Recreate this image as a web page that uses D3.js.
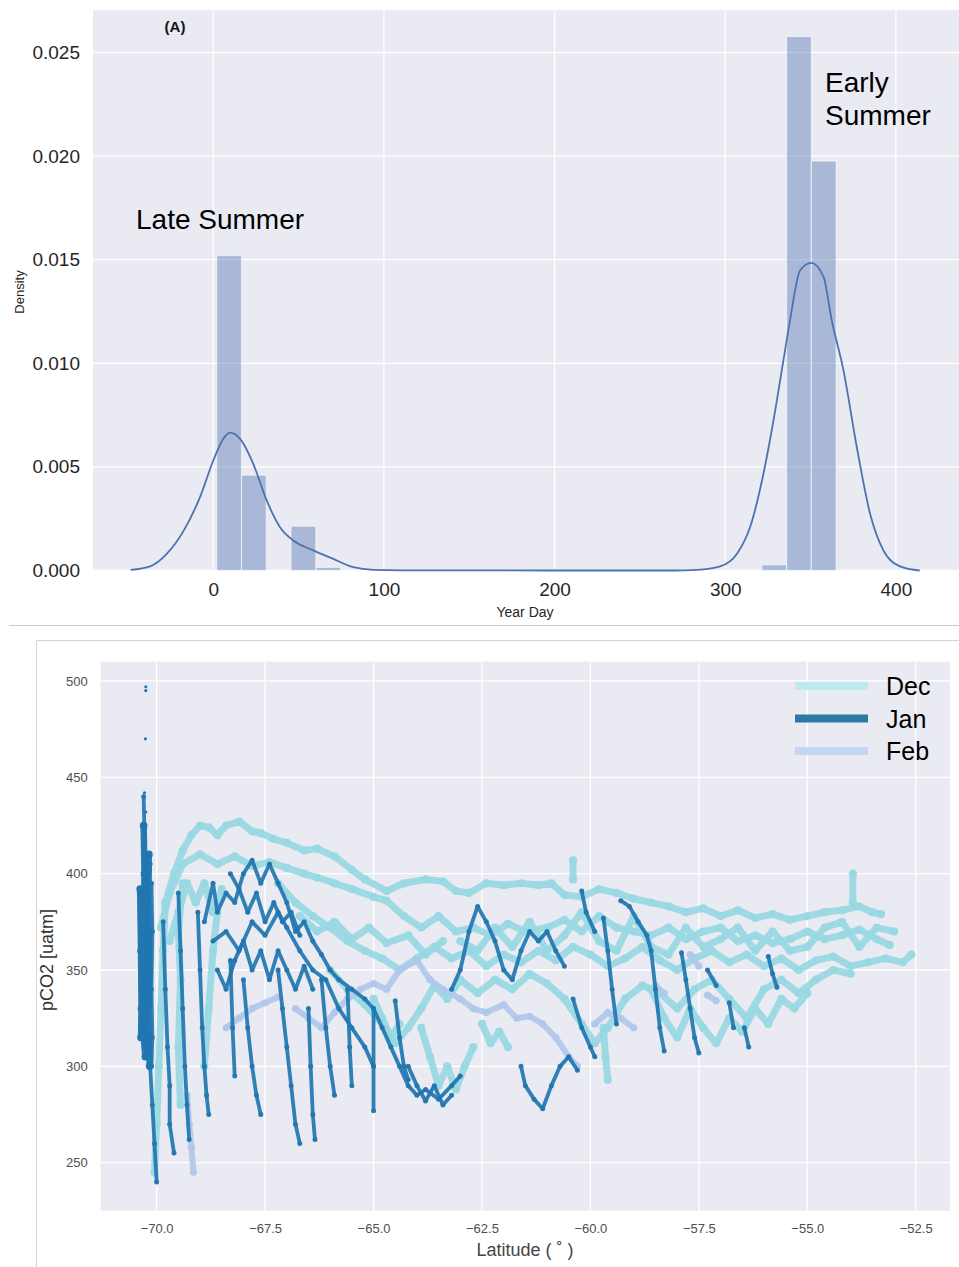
<!DOCTYPE html>
<html>
<head>
<meta charset="utf-8">
<title>Year day density and pCO2 by latitude</title>
<script src="https://d3js.org/d3.v7.min.js"></script>
<style>
  body { margin: 0; background: #fff; }
  svg { display: block; font-family: "Liberation Sans", Arial, sans-serif; }
</style>
</head>
<body>
<div id="chart"></div>
<script>
// ---- panel A data: histogram of year day (density) ----
var binStart = 2, binEnd = 365;
var histDensity = [0.0152, 0.0046, 0, 0.00214, 0.00015,
  0, 0, 0, 0, 0, 0, 0, 0, 0, 0, 0, 0, 0, 0, 0, 0, 0,
  0.000275, 0.02577, 0.01976];
var kdeDay = [-48.4, -37, -27.3, -17.5, -7.8, 0, 5.9, 9.8, 15.6, 23.4, 31.3, 39.1, 46.9, 58.6, 70.3, 82, 93.8, 110, 200, 270,
  283.3, 297, 306.8, 314.6, 322.4, 328.3, 334.1, 338, 343.9, 350.4, 357.6, 362.4, 369.3, 377.1, 384.9, 392.7, 402.5, 414];
var kdeDensity = [0.00003, 0.0002, 0.0008, 0.0019, 0.00354, 0.00531, 0.00636, 0.00665, 0.00636, 0.00515, 0.00338, 0.00209, 0.00145, 0.00097, 0.00056, 0.00016, 0.00003, 0.00001, 0, 0,
  0.00003, 0.0002, 0.0008, 0.0021, 0.00467, 0.00725, 0.01014, 0.01208, 0.01449, 0.01485, 0.01417, 0.01208, 0.00966, 0.00596, 0.00274, 0.00097, 0.0002, 0];
var dayTicks = [0, 100, 200, 300, 400];
var densityTicks = [0, 0.005, 0.010, 0.015, 0.020, 0.025];

// ---- panel B data: pCO2 tracks by month, [latitude, pCO2] ----
var decTracks = [
  [[-69.8,385],[-69.6,400],[-69.4,412],[-69.2,420],[-69.0,425],[-68.8,424],[-68.6,420],[-68.4,425],[-68.1,427],[-67.8,422],[-67.6,421],[-67.3,418],[-67.0,416],[-66.6,412],[-66.3,413],[-65.9,409],[-65.5,402],[-65.2,397],[-64.7,391],[-64.3,395],[-63.8,397],[-63.4,396],[-63.1,391],[-62.8,390],[-62.4,395],[-62.0,394],[-61.6,395],[-61.2,394],[-60.9,395],[-60.6,389],[-60.2,388],[-59.8,392],[-59.4,390],[-59.0,387],[-58.6,385],[-58.2,383],[-57.8,380],[-57.4,382],[-57.0,378],[-56.6,381],[-56.2,377],[-55.8,379],[-55.4,376],[-55.0,378],[-54.6,380],[-54.2,381],[-53.8,383],[-53.5,380],[-53.3,379]],
  [[-69.9,372],[-69.7,390],[-69.4,405],[-69.0,410],[-68.6,405],[-68.2,409],[-67.8,404],[-67.4,406],[-67.0,403],[-66.6,400],[-66.3,398],[-65.9,395],[-65.5,392],[-65.0,388],[-64.7,386],[-64.3,378],[-63.9,372],[-63.5,378],[-63.1,370],[-62.7,372],[-62.3,368],[-61.9,374],[-61.5,370],[-61.0,372],[-60.6,376],[-60.2,370],[-59.8,378],[-59.4,372],[-59.0,370],[-58.6,368],[-58.2,372],[-57.8,366],[-57.4,370],[-57.0,372],[-56.6,365],[-56.2,368],[-55.8,364],[-55.4,366],[-55.0,370],[-54.6,366],[-54.2,368],[-53.8,371],[-53.4,366],[-53.1,363]],
  [[-67.2,395],[-66.8,385],[-66.4,378],[-66.0,372],[-65.6,365],[-65.2,360],[-64.8,356],[-64.4,350],[-64.0,356],[-63.6,362],[-63.2,356],[-62.8,360],[-62.4,352],[-62.0,358],[-61.6,354],[-61.2,360],[-60.8,355],[-60.4,362],[-60.0,358],[-59.6,352],[-59.2,356],[-58.8,362],[-58.4,355],[-58.0,350],[-57.6,356],[-57.2,360],[-56.8,354],[-56.4,358],[-56.0,352],[-55.6,356],[-55.2,350],[-54.8,355],[-54.4,357],[-54.0,352],[-53.6,354],[-53.2,356],[-52.8,354],[-52.6,358]],
  [[-63.0,365],[-62.6,360],[-62.2,372],[-61.8,362],[-61.4,375],[-61.0,360],[-60.6,368],[-60.2,380],[-59.8,365],[-59.4,360],[-59.0,378],[-58.6,362],[-58.2,358],[-57.8,372],[-57.4,362],[-57.0,366],[-56.6,372],[-56.2,360],[-55.8,370],[-55.4,360],[-55.0,362],[-54.6,372],[-54.2,375],[-53.8,362],[-53.4,372],[-53.0,370]],
  [[-66.7,378],[-66.3,370],[-65.9,375],[-65.5,366],[-65.1,372],[-64.7,364],[-64.2,368],[-63.8,358],[-63.4,365]],
  [[-69.7,365],[-69.5,380],[-69.3,395],[-69.1,385],[-68.9,395],[-68.7,380],[-68.5,392]],
  [[-66.0,350],[-65.6,340],[-65.2,332],[-64.8,322],[-64.5,312],[-64.2,320],[-63.9,330],[-63.6,342],[-63.3,335],[-63.0,345],[-62.6,338],[-62.2,345],[-61.8,340],[-61.4,348],[-61.0,343],[-60.6,335],[-60.2,322],[-59.9,312],[-59.6,320],[-59.2,335],[-58.8,342],[-58.4,338],[-58.0,330],[-57.6,340],[-57.2,345],[-56.8,335],[-56.4,325],[-56.0,340],[-55.6,345],[-55.2,338],[-54.8,345],[-54.4,350],[-54.0,348]],
  [[-58.6,340],[-58.3,325],[-58.0,315],[-57.7,330],[-57.4,320],[-57.1,312],[-56.8,325],[-56.5,318],[-56.2,330],[-55.9,322],[-55.6,335],[-55.3,330],[-55.0,338]],
  [[-70.05,245],[-70.0,270],[-69.95,300],[-69.9,330],[-69.85,360],[-69.8,385]],
  [[-69.45,280],[-69.5,310],[-69.45,345],[-69.5,370],[-69.4,395]],
  [[-68.9,300],[-68.8,330],[-68.7,360],[-68.6,380]],
  [[-65.0,335],[-64.8,325],[-64.6,315],[-64.4,322]],
  [[-63.9,320],[-63.7,305],[-63.5,290],[-63.3,300],[-63.1,288],[-62.9,300],[-62.7,310]],
  [[-62.5,322],[-62.3,312],[-62.1,318],[-61.9,310]],
  [[-59.7,320],[-59.65,305],[-59.6,293]],
  [[-60.4,407],[-60.4,397]],
  [[-53.95,400],[-53.95,385]]
];
// dense January band at the southern end of the section
var janCore = [
  [[-70.3,425],[-70.28,400],[-70.3,370],[-70.26,340],[-70.3,315],[-70.26,305]],
  [[-70.18,410],[-70.2,380],[-70.17,350],[-70.2,320],[-70.16,300]],
  [[-70.38,392],[-70.36,360],[-70.35,330],[-70.36,315]]
];
var janTracks = [
  [[-70.3,440],[-70.28,420],[-70.3,400],[-70.25,380],[-70.3,360],[-70.25,340],[-70.3,320],[-70.25,305]],
  [[-70.15,405],[-70.2,380],[-70.15,350],[-70.2,320],[-70.15,300],[-70.1,280],[-70.05,260],[-70.0,240]],
  [[-70.22,410],[-70.24,390],[-70.2,365],[-70.24,345],[-70.2,325],[-70.22,310]],
  [[-70.12,395],[-70.1,370],[-70.12,340],[-70.1,315],[-70.12,300]],
  [[-70.4,390],[-70.38,360],[-70.35,330],[-70.36,315]],
  [[-69.85,375],[-69.8,340],[-69.75,310],[-69.7,290],[-69.7,270],[-69.6,255]],
  [[-69.5,390],[-69.45,360],[-69.4,330],[-69.35,300],[-69.3,280],[-69.25,262]],
  [[-69.05,380],[-69.0,350],[-68.95,320],[-68.9,300],[-68.85,285],[-68.8,275]],
  [[-68.9,375],[-68.7,395],[-68.6,380],[-68.4,390],[-68.2,385],[-68.0,400],[-67.8,407],[-67.6,395],[-67.4,405],[-67.2,395],[-67.0,385],[-66.8,370],[-66.6,375],[-66.4,365],[-66.2,358],[-66.0,350],[-65.8,345],[-65.5,340],[-65.2,335],[-65.0,330],[-64.8,320],[-64.6,310],[-64.4,300],[-64.2,290],[-64.0,285],[-63.8,288],[-63.5,283],[-63.2,290],[-63.0,295]],
  [[-68.7,365],[-68.4,370],[-68.1,360],[-67.8,375],[-67.5,368],[-67.2,380],[-67.0,372],[-66.7,360],[-66.4,350],[-66.1,345],[-65.8,330],[-65.5,320],[-65.2,310],[-65.0,300]],
  [[-68.3,400],[-68.1,392],[-67.9,380],[-67.7,390],[-67.5,375],[-67.3,385],[-67.1,375],[-66.9,380],[-66.7,368]],
  [[-68.6,350],[-68.4,340],[-68.2,355],[-68.0,365],[-67.8,350],[-67.6,360],[-67.4,345],[-67.2,360],[-67.0,350],[-66.8,340],[-66.6,352],[-66.4,340]],
  [[-68.3,355],[-68.25,320],[-68.2,295]],
  [[-68.0,345],[-67.9,320],[-67.8,300],[-67.7,285],[-67.6,275]],
  [[-67.2,350],[-67.1,330],[-67.0,310],[-66.9,290],[-66.8,270],[-66.7,260]],
  [[-66.5,330],[-66.45,300],[-66.4,275],[-66.35,262]],
  [[-66.2,345],[-66.1,320],[-66.0,300],[-65.9,285]],
  [[-65.6,340],[-65.55,310],[-65.5,290]],
  [[-65.0,330],[-65.0,300],[-65.0,277]],
  [[-64.5,334],[-64.4,315],[-64.3,300],[-64.2,293]],
  [[-63.2,340],[-63.0,350],[-62.8,370],[-62.6,383],[-62.4,375],[-62.2,365],[-62.0,350],[-61.8,345],[-61.6,360],[-61.4,370],[-61.2,365],[-61.0,370],[-60.8,360],[-60.6,352]],
  [[-64.2,300],[-64.0,290],[-63.8,282],[-63.6,290],[-63.4,280],[-63.2,285]],
  [[-61.6,300],[-61.5,290],[-61.3,283],[-61.1,278],[-60.9,290],[-60.7,300],[-60.5,305],[-60.3,298]],
  [[-60.4,335],[-60.2,320],[-60.0,310],[-59.9,305]],
  [[-60.2,391],[-60.1,380],[-59.9,370]],
  [[-59.7,377],[-59.6,360],[-59.5,340],[-59.4,322]],
  [[-59.3,386],[-59.1,383],[-58.9,375],[-58.7,368],[-58.6,360],[-58.5,340],[-58.4,320],[-58.3,308]],
  [[-57.9,359],[-57.8,345],[-57.7,330],[-57.6,315],[-57.5,307]],
  [[-57.3,350],[-57.1,342]],
  [[-56.8,333],[-56.7,320]],
  [[-56.45,320],[-56.35,310]],
  [[-55.9,357],[-55.8,348],[-55.7,341]]
];
var febTracks = [
  [[-69.3,285],[-69.25,270],[-69.2,258],[-69.15,245]],
  [[-68.4,320],[-68.1,325],[-67.8,330],[-67.5,333],[-67.2,336]],
  [[-66.8,330],[-66.5,325],[-66.2,320],[-65.9,328],[-65.6,335],[-65.3,340],[-65.0,343],[-64.7,340],[-64.4,350],[-64.0,355],[-63.7,345],[-63.4,340],[-63.0,335],[-62.7,330],[-62.4,328],[-62.0,332],[-61.7,325],[-61.4,326],[-61.1,322],[-60.8,315],[-60.5,305],[-60.3,300]],
  [[-59.9,322],[-59.6,328],[-59.3,325],[-59.0,320]],
  [[-58.5,342],[-58.3,338]],
  [[-57.7,358],[-57.5,352]],
  [[-57.3,337],[-57.1,334]]
];
var janOutliers = [[-70.25,497],[-70.25,495],[-70.26,470],[-70.28,442],[-70.25,432]];
var latTicks = [-70, -67.5, -65, -62.5, -60, -57.5, -55, -52.5];
var pco2Ticks = [250, 300, 350, 400, 450, 500];
var months = ["Dec", "Jan", "Feb"];

var W = 959, H = 1267;
var svg = d3.select("#chart").append("svg").attr("width", W).attr("height", H);
var bg = "#eaeaf2";

// ================= panel A =================
var x = d3.scaleLinear().domain([-70.5, 437]).range([93, 959]);
var y = d3.scaleLinear().domain([0, 0.02705]).range([570.5, 10]);

svg.append("rect").attr("x", 93).attr("y", 10).attr("width", 866).attr("height", 560.5).attr("fill", bg);

var gA = svg.append("g");
gA.selectAll(".vgrid").data(dayTicks).enter().append("line")
  .attr("x1", d => x(d)).attr("x2", d => x(d)).attr("y1", 10).attr("y2", 570.5)
  .attr("stroke", "#fff").attr("stroke-width", 1.3);
gA.selectAll(".hgrid").data(densityTicks).enter().append("line")
  .attr("x1", 93).attr("x2", 959).attr("y1", d => y(d)).attr("y2", d => y(d))
  .attr("stroke", "#fff").attr("stroke-width", 1.3);

var binW = (binEnd - binStart) / histDensity.length;
gA.selectAll(".bar").data(histDensity.map((v, i) => ({x0: binStart + i * binW, v: v})).filter(d => d.v > 0))
  .enter().append("rect")
  .attr("x", d => x(d.x0)).attr("width", d => x(d.x0 + binW) - x(d.x0))
  .attr("y", d => y(d.v)).attr("height", d => y(0) - y(d.v))
  .attr("fill", "#4c72b0").attr("fill-opacity", 0.42)
  .attr("stroke", "#fff").attr("stroke-opacity", 0.55).attr("stroke-width", 1.2);

var kde = kdeDay.map((d, i) => [d, kdeDensity[i]]);
gA.append("path").datum(kde)
  .attr("d", d3.line().x(d => x(d[0])).y(d => y(d[1])).curve(d3.curveMonotoneX))
  .attr("fill", "none").attr("stroke", "#4c72b0").attr("stroke-width", 1.8);

// axes (no domain lines, seaborn style)
var axA = svg.append("g").attr("transform", "translate(0,570.5)")
  .call(d3.axisBottom(x).tickValues(dayTicks).tickSize(0).tickPadding(12).tickFormat(d3.format("d")));
axA.select(".domain").remove();
axA.selectAll("text").attr("font-size", 19).attr("fill", "#262626").attr("font-family", "Liberation Sans, Arial, sans-serif");

var ayA = svg.append("g").attr("transform", "translate(93,0)")
  .call(d3.axisLeft(y).tickValues(densityTicks).tickSize(0).tickPadding(13).tickFormat(d3.format(".3f")));
ayA.select(".domain").remove();
ayA.selectAll("text").attr("font-size", 19).attr("fill", "#262626").attr("font-family", "Liberation Sans, Arial, sans-serif");

svg.append("text").attr("x", 525).attr("y", 617).attr("text-anchor", "middle")
  .attr("font-size", 14).attr("fill", "#262626").text("Year Day");
svg.append("text").attr("transform", "translate(24,292) rotate(-90)").attr("text-anchor", "middle")
  .attr("font-size", 13).attr("fill", "#262626").text("Density");
svg.append("text").attr("x", 175).attr("y", 32).attr("text-anchor", "middle")
  .attr("font-size", 15).attr("font-weight", "bold").attr("fill", "#111").text("(A)");
svg.append("text").attr("x", 136).attr("y", 229).attr("font-size", 28).attr("fill", "#000").text("Late Summer");
svg.append("text").attr("x", 825).attr("y", 92).attr("font-size", 28).attr("fill", "#000").text("Early");
svg.append("text").attr("x", 825).attr("y", 125).attr("font-size", 28).attr("fill", "#000").text("Summer");

// separators
svg.append("line").attr("x1", 9).attr("x2", 959).attr("y1", 625.5).attr("y2", 625.5)
  .attr("stroke", "#c9c9c9").attr("stroke-width", 1);
svg.append("path").attr("d", "M36.5,1267V640.5H959")
  .attr("fill", "none").attr("stroke", "#d4d4d4").attr("stroke-width", 1);

// ================= panel B =================
var L = 100.7, R = 950, T = 661.7, B = 1210.7;
var xb = d3.scaleLinear().domain([-71.29, -51.71]).range([L, R]);
var yb = d3.scaleLinear().domain([225.1, 510]).range([B, T]);

svg.append("rect").attr("x", L).attr("y", T).attr("width", R - L).attr("height", B - T).attr("fill", bg);
svg.append("clipPath").attr("id", "clipB").append("rect")
  .attr("x", L).attr("y", T).attr("width", R - L).attr("height", B - T);

var gB = svg.append("g");
gB.selectAll(".vg").data(latTicks).enter().append("line")
  .attr("x1", d => xb(d)).attr("x2", d => xb(d)).attr("y1", T).attr("y2", B)
  .attr("stroke", "#fff").attr("stroke-width", 1.3);
gB.selectAll(".hg").data(pco2Ticks).enter().append("line")
  .attr("x1", L).attr("x2", R).attr("y1", d => yb(d)).attr("y2", d => yb(d))
  .attr("stroke", "#fff").attr("stroke-width", 1.3);

var track = d3.line().x(d => xb(d[0])).y(d => yb(d[1])).curve(d3.curveLinear);
var plot = svg.append("g").attr("clip-path", "url(#clipB)");

function drawTracks(tracks, color, width, op) {
  var g = plot.append("g");
  g.selectAll("path").data(tracks).enter().append("path")
    .attr("d", track).attr("fill", "none").attr("stroke", color)
    .attr("stroke-width", width).attr("stroke-linejoin", "round").attr("stroke-linecap", "round")
    .attr("stroke-opacity", op);
  g.selectAll("circle").data(tracks.flat()).enter().append("circle")
    .attr("cx", d => xb(d[0])).attr("cy", d => yb(d[1])).attr("r", width / 2 + 0.6)
    .attr("fill", color).attr("fill-opacity", op);
}
drawTracks(decTracks, "#97d8e2", 7, 0.9);
drawTracks(febTracks, "#b0c8ea", 6, 0.9);
drawTracks(janTracks, "#2176b0", 3.8, 0.92);
drawTracks(janCore, "#2176b0", 6.5, 0.95);
plot.selectAll(".out").data(janOutliers).enter().append("circle")
  .attr("cx", d => xb(d[0])).attr("cy", d => yb(d[1])).attr("r", 1.6).attr("fill", "#2176b0");

var axB = svg.append("g").attr("transform", "translate(0," + B + ")")
  .call(d3.axisBottom(xb).tickValues(latTicks).tickSize(0).tickPadding(13).tickFormat(d3.format(".1f")));
axB.select(".domain").remove();
axB.selectAll("text").attr("font-size", 13).attr("fill", "#4d4d4d").attr("font-family", "Liberation Sans, Arial, sans-serif");

var ayB = svg.append("g").attr("transform", "translate(" + L + ",0)")
  .call(d3.axisLeft(yb).tickValues(pco2Ticks).tickSize(0).tickPadding(13).tickFormat(d3.format("d")));
ayB.select(".domain").remove();
ayB.selectAll("text").attr("font-size", 13).attr("fill", "#4d4d4d").attr("font-family", "Liberation Sans, Arial, sans-serif");

svg.append("text").attr("x", 525).attr("y", 1256).attr("text-anchor", "middle")
  .attr("font-size", 18).attr("fill", "#444").text("Latitude ( ˚ )");
svg.append("text").attr("transform", "translate(53,960) rotate(-90)").attr("text-anchor", "middle")
  .attr("font-size", 18).attr("fill", "#333").text("pCO2 [uatm]");

// legend
var legendColors = ["#bde9ef", "#2a7aa2", "#c6d7f4"];
var lg = svg.append("g");
months.forEach(function(m, i) {
  var ly = 686 + i * 32.5;
  lg.append("line").attr("x1", 795).attr("x2", 868).attr("y1", ly).attr("y2", ly)
    .attr("stroke", legendColors[i]).attr("stroke-width", 8);
  lg.append("text").attr("x", 886).attr("y", ly + 9).attr("font-size", 25).attr("fill", "#000").text(m);
});
</script>
</body>
</html>
